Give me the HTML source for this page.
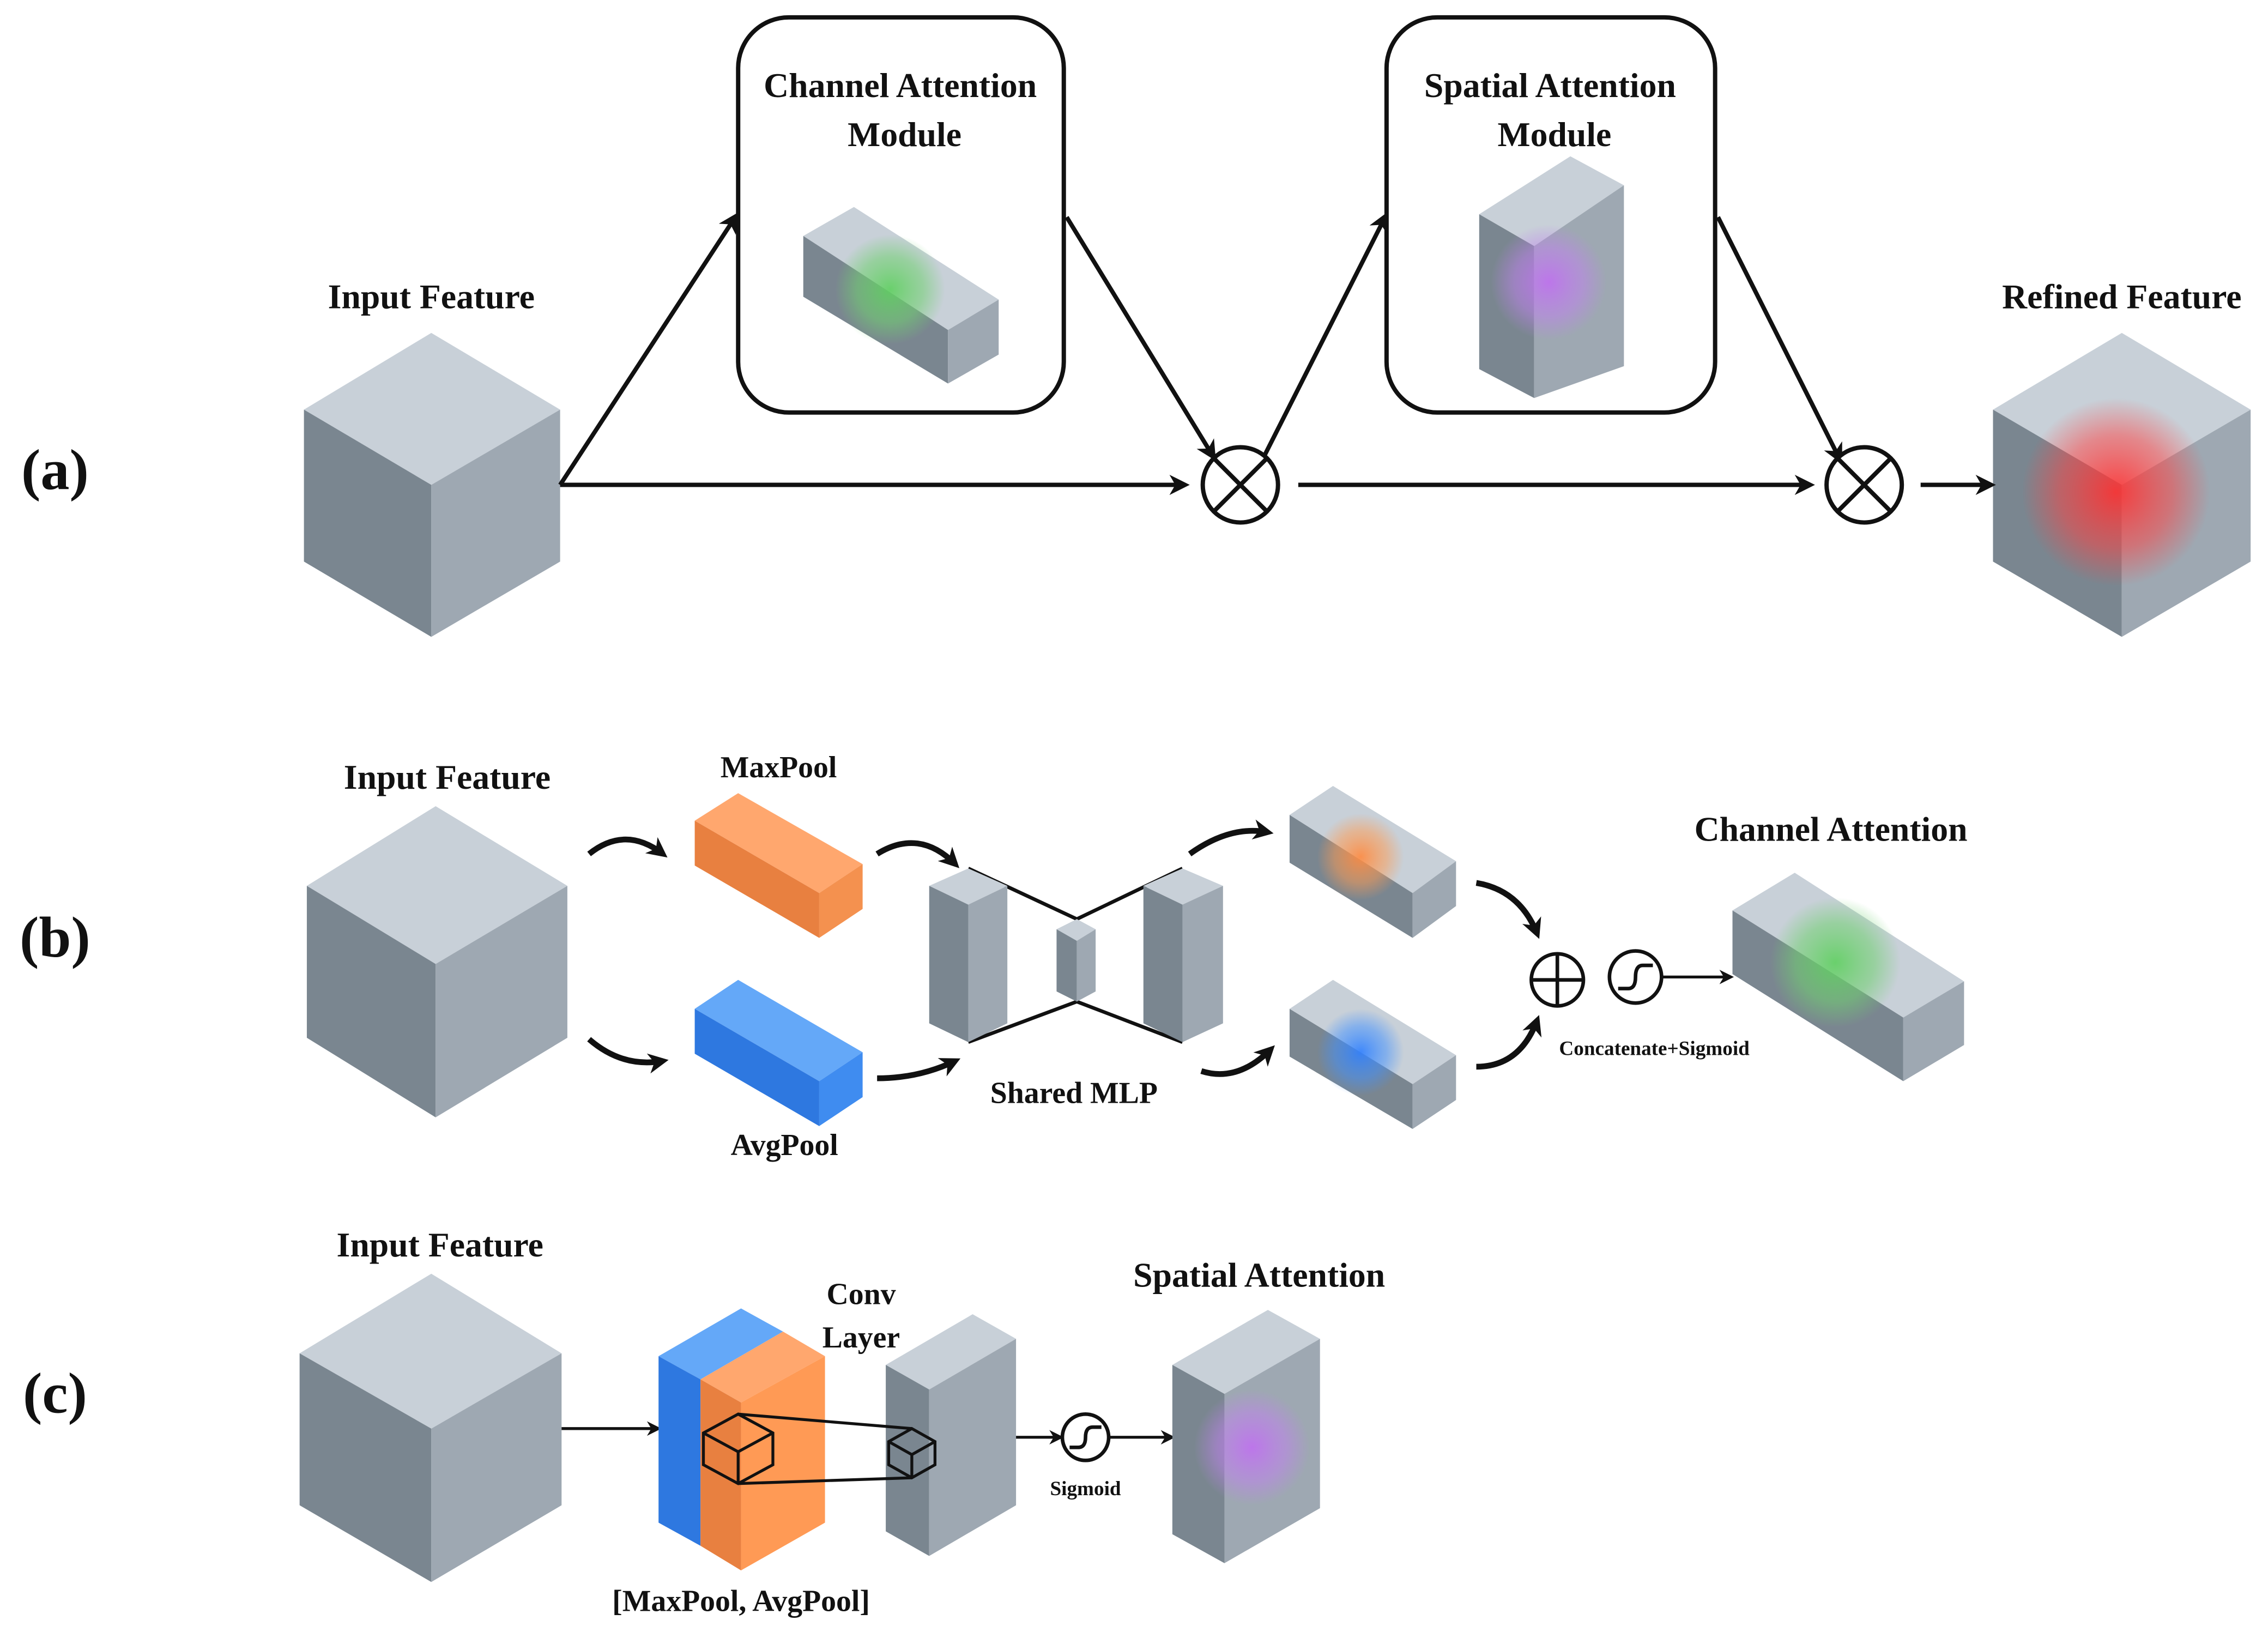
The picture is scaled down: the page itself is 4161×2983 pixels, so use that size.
<!DOCTYPE html>
<html><head><meta charset="utf-8"><style>
html,body{margin:0;padding:0;background:#fff}
svg{display:block}
text{font-family:"Liberation Serif",serif;font-weight:bold;fill:#111}
</style></head><body>
<svg width="4161" height="2983" viewBox="0 0 1567 1123.4" preserveAspectRatio="none" xmlns="http://www.w3.org/2000/svg">
<defs>
<radialGradient id="gR"><stop offset="0" stop-color="#ff3030" stop-opacity=".9"/><stop offset=".6" stop-color="#ff4040" stop-opacity=".5"/><stop offset="1" stop-color="#ff4040" stop-opacity="0"/></radialGradient>
<radialGradient id="gG"><stop offset="0" stop-color="#5fd060" stop-opacity=".9"/><stop offset=".6" stop-color="#70d070" stop-opacity=".55"/><stop offset="1" stop-color="#70d070" stop-opacity="0"/></radialGradient>
<radialGradient id="gP"><stop offset="0" stop-color="#c070f0" stop-opacity=".9"/><stop offset=".6" stop-color="#c080f0" stop-opacity=".5"/><stop offset="1" stop-color="#c080f0" stop-opacity="0"/></radialGradient>
<radialGradient id="gO"><stop offset="0" stop-color="#ff8a40" stop-opacity=".9"/><stop offset=".6" stop-color="#ff9a50" stop-opacity=".5"/><stop offset="1" stop-color="#ff9a50" stop-opacity="0"/></radialGradient>
<radialGradient id="gB"><stop offset="0" stop-color="#3080ff" stop-opacity=".9"/><stop offset=".6" stop-color="#4090ff" stop-opacity=".5"/><stop offset="1" stop-color="#4090ff" stop-opacity="0"/></radialGradient>
<marker id="ah" markerWidth="10" markerHeight="10" refX="8" refY="5" orient="auto" markerUnits="userSpaceOnUse"><path d="M0,0 L10,5 L0,10 L3,5 z" fill="#111"/></marker>
<marker id="ah2" markerWidth="16" markerHeight="16" refX="10" refY="8" orient="auto" markerUnits="userSpaceOnUse"><path d="M0,1 L14,8 L0,15 L4,8 z" fill="#111"/></marker>
</defs>
<g fill="none" stroke="#111" stroke-width="3">
<rect x="510" y="12" width="225" height="273" rx="35"/>
<rect x="958" y="12" width="227" height="273" rx="35"/>
</g>
<g>
<polygon points="298,230 387,283 298,335 210,283" fill="#c8d0d8"/>
<polygon points="210,283 298,335 298,440 210,388" fill="#7a8690"/>
<polygon points="298,335 387,283 387,388 298,440" fill="#9ea8b2"/>
<polygon points="1466,230 1555,283 1466,335 1377,283" fill="#c8d0d8"/>
<polygon points="1377,283 1466,335 1466,440 1377,388" fill="#7a8690"/>
<polygon points="1466,335 1555,283 1555,388 1466,440" fill="#9ea8b2"/>
<circle cx="1462" cy="340" r="65" fill="url(#gR)"/>
<polygon points="555,163 590,143 690,207 655,228" fill="#c8d0d8"/>
<polygon points="555,163 655,228 655,265 555,205" fill="#7a8690"/>
<polygon points="655,228 690,207 690,245 655,265" fill="#9ea8b2"/>
<circle cx="615" cy="200" r="38" fill="url(#gG)"/>
<polygon points="1022,148 1085,108 1122,128 1060,170" fill="#c8d0d8"/>
<polygon points="1022,148 1060,170 1060,275 1022,255" fill="#7a8690"/>
<polygon points="1060,170 1122,128 1122,253 1060,275" fill="#9ea8b2"/>
<circle cx="1070" cy="195" r="40" fill="url(#gP)"/>
</g>
<g stroke="#111" stroke-width="3" fill="none">
<line x1="387" y1="335" x2="818" y2="335" marker-end="url(#ah2)"/>
<line x1="387" y1="335" x2="508" y2="150" marker-end="url(#ah2)"/>
<line x1="737" y1="150" x2="838" y2="315" marker-end="url(#ah2)"/>
<line x1="872" y1="318" x2="957" y2="150" marker-end="url(#ah2)"/>
<line x1="897" y1="335" x2="1250" y2="335" marker-end="url(#ah2)"/>
<line x1="1187" y1="150" x2="1271" y2="317" marker-end="url(#ah2)"/>
<line x1="1327" y1="335" x2="1375" y2="335" marker-end="url(#ah2)"/>
<circle cx="857" cy="335" r="26" fill="#fff"/>
<line x1="839" y1="317" x2="875" y2="353"/><line x1="875" y1="317" x2="839" y2="353"/>
<circle cx="1288" cy="335" r="26" fill="#fff"/>
<line x1="1270" y1="317" x2="1306" y2="353"/><line x1="1306" y1="317" x2="1270" y2="353"/>
</g>
<text x="622" y="67" font-size="24" text-anchor="middle">Channel Attention</text>
<text x="625" y="101" font-size="24" text-anchor="middle">Module</text>
<text x="1071" y="67" font-size="24" text-anchor="middle">Spatial Attention</text>
<text x="1074" y="101" font-size="24" text-anchor="middle">Module</text>
<text x="298" y="213" font-size="24" text-anchor="middle">Input Feature</text>
<text x="1466" y="213" font-size="24" text-anchor="middle">Refined Feature</text>
<text x="38" y="338" font-size="40" text-anchor="middle">(a)</text>
<text x="38" y="661" font-size="40" text-anchor="middle">(b)</text>
<text x="38" y="976" font-size="40" text-anchor="middle">(c)</text>
<polygon points="301,557 392,612 301,666 212,612" fill="#c8d0d8"/>
<polygon points="212,612 301,666 301,772 212,717" fill="#7a8690"/>
<polygon points="301,666 392,612 392,717 301,772" fill="#9ea8b2"/>
<text x="309" y="545" font-size="24" text-anchor="middle">Input Feature</text>
<polygon points="480,567 510,548 596,597 566,617" fill="#ffa76e"/>
<polygon points="480,567 566,617 566,648 480,598" fill="#e88040"/>
<polygon points="566,617 596,597 596,628 566,648" fill="#f4914f"/>
<text x="538" y="537" font-size="21" text-anchor="middle">MaxPool</text>
<polygon points="480,697 510,677 596,727 566,747" fill="#64a8f8"/>
<polygon points="480,697 566,747 566,778 480,728" fill="#2e78e0"/>
<polygon points="566,747 596,727 596,758 566,778" fill="#3f8cf0"/>
<text x="542" y="798" font-size="21" text-anchor="middle">AvgPool</text>
<g stroke="#111" stroke-width="4" fill="none">
<path d="M407,590 Q432,570 458,590" marker-end="url(#ah2)"/>
<path d="M407,718 Q430,738 458,733" marker-end="url(#ah2)"/>
<path d="M606,590 Q635,572 660,597" marker-end="url(#ah2)"/>
<path d="M606,745 Q635,745 660,733" marker-end="url(#ah2)"/>
<path d="M822,590 Q850,570 876,575" marker-end="url(#ah2)"/>
<path d="M830,740 Q855,748 878,725" marker-end="url(#ah2)"/>
<path d="M1020,610 Q1050,615 1062,645" marker-end="url(#ah2)"/>
<path d="M1020,737 Q1050,737 1062,705" marker-end="url(#ah2)"/>
</g>
<g stroke="#111" stroke-width="2.5">
<line x1="669" y1="600" x2="744" y2="635"/><line x1="744" y1="635" x2="817" y2="600"/>
<line x1="669" y1="720" x2="744" y2="692"/><line x1="744" y1="692" x2="817" y2="720"/>
</g>
<polygon points="642,612 669,600 696,612 669,625" fill="#c8d0d8"/>
<polygon points="642,612 669,625 669,720 642,707" fill="#7a8690"/>
<polygon points="669,625 696,612 696,707 669,720" fill="#9ea8b2"/>
<polygon points="730,642 744,635 757,642 744,650" fill="#c8d0d8"/>
<polygon points="730,642 744,650 744,692 730,685" fill="#7a8690"/>
<polygon points="744,650 757,642 757,685 744,692" fill="#9ea8b2"/>
<polygon points="790,612 817,600 845,612 817,625" fill="#c8d0d8"/>
<polygon points="790,612 817,625 817,720 790,707" fill="#7a8690"/>
<polygon points="817,625 845,612 845,707 817,720" fill="#9ea8b2"/>
<text x="742" y="762" font-size="21" text-anchor="middle">Shared MLP</text>
<polygon points="891,563 921,543 1006,595 976,617" fill="#c8d0d8"/>
<polygon points="891,563 976,617 976,648 891,596" fill="#7a8690"/>
<polygon points="976,617 1006,595 1006,626 976,648" fill="#9ea8b2"/>
<circle cx="940" cy="592" r="30" fill="url(#gO)"/>
<polygon points="891,697 921,677 1006,729 976,749" fill="#c8d0d8"/>
<polygon points="891,697 976,749 976,780 891,730" fill="#7a8690"/>
<polygon points="976,749 1006,729 1006,760 976,780" fill="#9ea8b2"/>
<circle cx="940" cy="727" r="30" fill="url(#gB)"/>
<g stroke="#111" stroke-width="2.5" fill="none">
<circle cx="1076" cy="677" r="18"/><line x1="1058" y1="677" x2="1094" y2="677"/><line x1="1076" y1="659" x2="1076" y2="695"/>
<circle cx="1130" cy="675" r="18"/><path d="M1118,683 L1125,683 Q1130,683 1130,675 Q1130,667 1135,667 L1142,667"/>
<line x1="1148" y1="675" x2="1196" y2="675" stroke-width="2" marker-end="url(#ah)"/>
</g>
<text x="1143" y="729" font-size="14" text-anchor="middle">Concatenate+Sigmoid</text>
<polygon points="1197,629 1240,603 1357,678 1315,703" fill="#c8d0d8"/>
<polygon points="1197,629 1315,703 1315,747 1197,673" fill="#7a8690"/>
<polygon points="1315,703 1357,678 1357,722 1315,747" fill="#9ea8b2"/>
<circle cx="1268" cy="665" r="45" fill="url(#gG)"/>
<text x="1265" y="581" font-size="24" text-anchor="middle">Channel Attention</text>
<polygon points="298,880 388,935 298,987 207,935" fill="#c8d0d8"/>
<polygon points="207,935 298,987 298,1093 207,1040" fill="#7a8690"/>
<polygon points="298,987 388,935 388,1040 298,1093" fill="#9ea8b2"/>
<text x="304" y="868" font-size="24" text-anchor="middle">Input Feature</text>
<line x1="388" y1="987" x2="455" y2="987" stroke="#111" stroke-width="2" marker-end="url(#ah)"/>
<polygon points="455,937 512,904 541,920 484,953" fill="#64a8f8"/>
<polygon points="455,937 484,953 484,1068 455,1052" fill="#2e78e0"/>
<polygon points="484,953 541,920 570,937 512,969" fill="#ffa76e"/>
<polygon points="484,953 512,969 512,1085 484,1068" fill="#e88040"/>
<polygon points="512,969 570,937 570,1052 512,1085" fill="#ff9a55"/>
<polygon points="612,943 672,908 702,925 642,960" fill="#c8d0d8"/>
<polygon points="612,943 642,960 642,1075 612,1058" fill="#7a8690"/>
<polygon points="642,960 702,925 702,1040 642,1075" fill="#9ea8b2"/>
<g stroke="#111" stroke-width="2" fill="none">
<polygon points="486,990 510,977 534,990 534,1012 510,1025 486,1012"/>
<path d="M486,990 L510,1003 L534,990 M510,1003 L510,1025"/>
<polygon points="614,996 630,987 646,996 646,1012 630,1021 614,1012"/>
<path d="M614,996 L630,1005 L646,996 M630,1005 L630,1021"/>
<line x1="510" y1="977" x2="630" y2="987"/><line x1="510" y1="1025" x2="630" y2="1021"/>
<line x1="702" y1="993" x2="733" y2="993" marker-end="url(#ah)"/>
<circle cx="750" cy="993" r="16" stroke-width="2.5"/>
<path d="M739,1000 L745,1000 Q750,1000 750,993 Q750,986 755,986 L761,986" stroke-width="2.5"/>
<line x1="767" y1="993" x2="810" y2="993" marker-end="url(#ah)"/>
</g>
<text x="512" y="1113" font-size="21" text-anchor="middle">[MaxPool, AvgPool]</text>
<text x="595" y="901" font-size="21" text-anchor="middle">Conv</text>
<text x="595" y="931" font-size="21" text-anchor="middle">Layer</text>
<text x="750" y="1033" font-size="14" text-anchor="middle">Sigmoid</text>
<polygon points="810,943 876,905 912,925 846,963" fill="#c8d0d8"/>
<polygon points="810,943 846,963 846,1080 810,1060" fill="#7a8690"/>
<polygon points="846,963 912,925 912,1042 846,1080" fill="#9ea8b2"/>
<circle cx="865" cy="1000" r="40" fill="url(#gP)"/>
<text x="870" y="889" font-size="24" text-anchor="middle">Spatial Attention</text>
</svg>
</body></html>
